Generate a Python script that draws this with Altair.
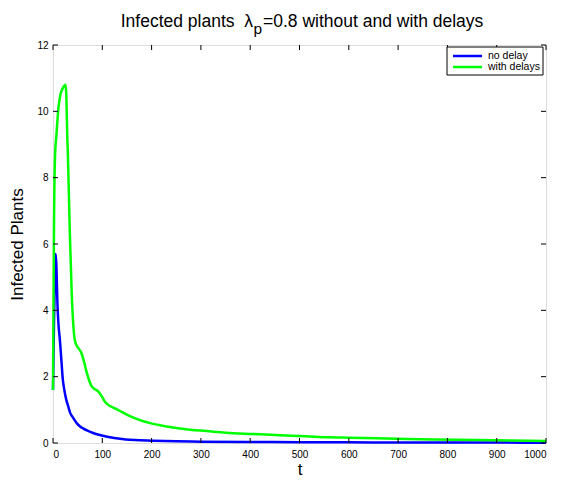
import altair as alt
import pandas as pd

# --- data ---
t_no_delay = [0, 2, 4, 5.5, 7, 9, 11, 14, 17, 20, 23, 27, 31, 35, 40, 48, 55, 61, 70, 80, 95, 110, 140, 176, 200, 250, 300, 400, 500, 600, 700, 800, 900, 1000]
i_no_delay = [1.6, 3.6, 5.1, 5.7, 5.3, 4.2, 3.6, 3.1, 2.5, 1.9, 1.6, 1.3, 1.1, 0.9, 0.78, 0.6, 0.5, 0.44, 0.37, 0.31, 0.24, 0.19, 0.12, 0.08, 0.07, 0.05, 0.04, 0.03, 0.025, 0.02, 0.017, 0.015, 0.012, 0.01]

t_delay = [0, 1, 2, 4, 7, 11, 15, 20, 25.5, 27, 29, 30, 34, 38, 42, 45, 52, 58, 63, 68, 73, 78, 85, 92, 100, 105, 115, 129, 140, 156, 176, 197, 230, 278, 311, 350, 406, 450, 514, 561, 600, 717, 818, 900, 1000]
i_delay = [1.6, 4.3, 6.5, 8.6, 9.3, 10.1, 10.5, 10.7, 10.8, 10.5, 9.2, 8.8, 6.4, 4.5, 3.4, 3.05, 2.85, 2.7, 2.45, 2.15, 1.9, 1.72, 1.62, 1.55, 1.38, 1.25, 1.12, 1.02, 0.93, 0.81, 0.69, 0.6, 0.5, 0.4, 0.36, 0.31, 0.27, 0.24, 0.2, 0.17, 0.16, 0.12, 0.1, 0.08, 0.06]

series_names = ["no delay", "with delays"]
series_colors = ["#0000ff", "#00ff00"]

x_ticks = list(range(0, 1001, 100))
y_ticks = list(range(0, 13, 2))

title_main = "Infected plants\u00a0\u00a0\u03bb"
title_sub = "p"
title_rest = "=0.8 without and with delays"

W, H = 493, 398
FONT = "Liberation Sans"

df = pd.concat([
    pd.DataFrame({"t": t_no_delay, "I": i_no_delay, "series": series_names[0]}),
    pd.DataFrame({"t": t_delay, "I": i_delay, "series": series_names[1]}),
])

xscale = alt.Scale(domain=[0, 1000], nice=False)
yscale = alt.Scale(domain=[0, 12], nice=False)

lines = alt.Chart(df).mark_line(strokeWidth=2.5, interpolate="monotone").encode(
    x=alt.X("t:Q", scale=xscale,
            axis=alt.Axis(values=x_ticks, format="d", title="t", tickSize=0, labelPadding=6,
                          labelFontSize=10, labelColor="black", titleFontSize=17,
                          titleFontWeight="normal", titleColor="black", titlePadding=2,
                          domain=False, grid=False, labelFont=FONT, titleFont=FONT)),
    y=alt.Y("I:Q", scale=yscale,
            axis=alt.Axis(values=y_ticks, title="Infected Plants", tickSize=0, labelPadding=5,
                          labelFontSize=10, labelColor="black", titleFontSize=17,
                          titleFontWeight="normal", titleColor="black", titlePadding=10,
                          domain=False, grid=False, labelFont=FONT, titleFont=FONT)),
    color=alt.Color("series:N",
                    scale=alt.Scale(domain=series_names, range=series_colors),
                    legend=None),
)

xt = pd.DataFrame({"v": x_ticks})
yt = pd.DataFrame({"v": y_ticks})
TL = 5
tick_style = dict(color="black", strokeWidth=1)
xb = alt.Chart(xt).mark_rule(**tick_style).encode(x=alt.X("v:Q", scale=xscale), y=alt.value(H - TL), y2=alt.value(H))
xtp = alt.Chart(xt).mark_rule(**tick_style).encode(x=alt.X("v:Q", scale=xscale), y=alt.value(0), y2=alt.value(TL))
yl = alt.Chart(yt).mark_rule(**tick_style).encode(y=alt.Y("v:Q", scale=yscale), x=alt.value(0), x2=alt.value(TL))
yr = alt.Chart(yt).mark_rule(**tick_style).encode(y=alt.Y("v:Q", scale=yscale), x=alt.value(W - TL), x2=alt.value(W))

# title (with subscript)
title_df = pd.DataFrame({"a": [title_main], "b": [title_sub], "c": [title_rest]})
TX = 200
TFS = 17.5
t1 = alt.Chart(title_df).mark_text(align="right", baseline="alphabetic", fontSize=TFS, font=FONT, color="black").encode(
    text="a:N", x=alt.value(TX), y=alt.value(-18))
t2 = alt.Chart(title_df).mark_text(align="left", baseline="alphabetic", fontSize=15.5, font=FONT, color="black").encode(
    text="b:N", x=alt.value(TX + 0.5), y=alt.value(-11))
t3 = alt.Chart(title_df).mark_text(align="left", baseline="alphabetic", fontSize=TFS, font=FONT, color="black").encode(
    text="c:N", x=alt.value(TX + 10), y=alt.value(-18))

# legend box
one = pd.DataFrame({"a": [0]})
BX0, BX1, BY0, BY1 = W - 99, W - 3, 2, 30
box = alt.Chart(one).mark_rect(fill="white", stroke="black", strokeWidth=1).encode(
    x=alt.value(BX0), x2=alt.value(BX1), y=alt.value(BY0), y2=alt.value(BY1))
leg_layers = [box]
for i, (name, col) in enumerate(zip(series_names, series_colors)):
    yy = BY0 + 9 + i * 11
    ldf = pd.DataFrame({"name": [name]})
    leg_layers.append(alt.Chart(ldf).mark_rule(color=col, strokeWidth=2.5).encode(
        x=alt.value(BX0 + 6), x2=alt.value(BX0 + 35), y=alt.value(yy)))
    leg_layers.append(alt.Chart(ldf).mark_text(align="left", baseline="middle", fontSize=10.5, font=FONT, color="black").encode(
        text="name:N", x=alt.value(BX0 + 41), y=alt.value(yy)))

chart = alt.layer(lines, xb, xtp, yl, yr, t1, t2, t3, *leg_layers).properties(
    width=W, height=H,
    autosize=alt.AutoSizeParams(type="none"),
    padding={"left": 53, "top": 45, "right": 30, "bottom": 38},
).configure_view(stroke="black", strokeWidth=1.2).configure(background="white")

chart.save("out.html", embed_options={"renderer": "svg", "actions": False})
